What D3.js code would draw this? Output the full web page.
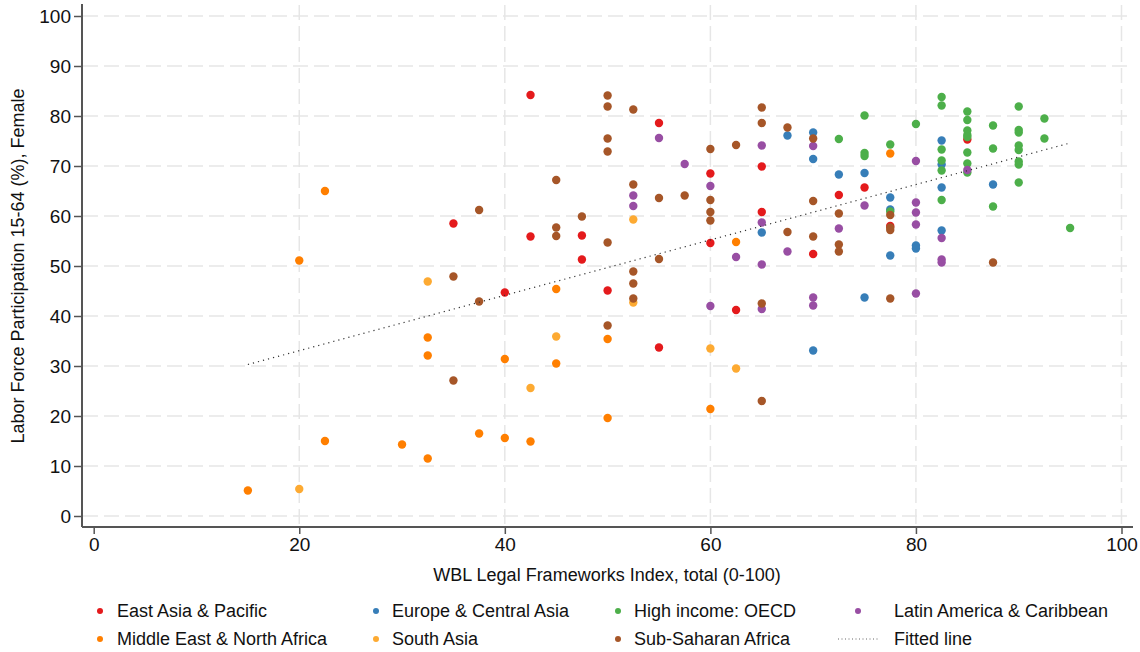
<!DOCTYPE html>
<html>
<head>
<meta charset="utf-8">
<script src="https://cdn.jsdelivr.net/npm/d3@7"></script>
<style>
    body { margin: 0; background: #fff; }
    svg { display: block; font-family: "Liberation Sans", Arial, sans-serif; }
</style>
</head>
<body>
<div id="chart"></div>
<script>
// Points per region: [WBL index, female labor force participation]
var eastAsia = [[42.5,84.2],[35,58.5],[42.5,55.9],[47.5,56.1],[47.5,51.3],[40,44.7],[55,78.6],[65,69.9],[60,68.5],[65,60.8],[60,54.6],[50,45.1],[62.5,41.2],[55,33.7],[70,52.4],[72.5,64.2],[75,65.7],[77.5,58.0],[85,75.3]];
var europe = [[67.5,76.1],[65,56.7],[70,76.7],[70,71.4],[70,33.1],[72.5,68.3],[75,68.6],[75,43.7],[77.5,63.7],[77.5,61.3],[77.5,52.1],[80,54.1],[80,53.5],[82.5,75.1],[82.5,70.3],[82.5,65.7],[82.5,57.1],[87.5,66.3]];
var oecd = [[72.5,75.4],[75,80.1],[75,72.6],[75,72.0],[77.5,74.3],[77.5,60.9],[80,78.4],[82.5,83.8],[82.5,82.1],[82.5,73.3],[82.5,71.1],[82.5,69.1],[82.5,63.2],[85,80.9],[85,79.2],[85,77.1],[85,76.2],[85,75.8],[85,72.7],[85,70.5],[85,68.7],[87.5,78.1],[87.5,73.5],[87.5,61.9],[90,81.9],[90,77.2],[90,76.7],[90,74.1],[90,73.2],[90,70.9],[90,70.3],[90,66.7],[92.5,79.5],[92.5,75.5],[95,57.6]];
var latam = [[55,75.6],[57.5,70.4],[65,74.1],[60,66.0],[52.5,64.1],[52.5,62.0],[65,58.7],[67.5,52.9],[62.5,51.8],[65,50.3],[60,42.0],[65,41.4],[70,74.0],[70,43.7],[70,42.1],[72.5,57.5],[75,62.1],[80,71.0],[80,62.7],[80,60.7],[80,58.3],[80,44.5],[82.5,55.6],[82.5,51.3],[82.5,50.7],[85,69.2]];
var mena = [[15,5.1],[20,51.1],[22.5,65.0],[22.5,15.0],[30,14.3],[32.5,35.7],[32.5,32.1],[32.5,11.5],[37.5,16.5],[40,31.4],[40,15.6],[42.5,14.9],[45,45.4],[45,30.5],[50,35.4],[50,19.6],[60,21.4],[62.5,54.8],[77.5,72.5]];
var southAsia = [[20,5.4],[32.5,46.9],[42.5,25.6],[45,35.9],[52.5,59.3],[52.5,42.7],[60,33.5],[62.5,29.5]];
var ssa = [[35,47.9],[37.5,42.9],[35,27.1],[45,67.2],[37.5,61.2],[47.5,59.9],[45,57.7],[45,56.0],[50,84.1],[50,81.9],[52.5,81.3],[65,81.7],[65,78.6],[67.5,77.7],[50,75.5],[50,72.9],[60,73.4],[62.5,74.2],[52.5,66.3],[55,63.6],[57.5,64.1],[60,63.2],[60,60.8],[60,59.1],[67.5,56.8],[50,54.7],[55,51.4],[52.5,48.9],[52.5,46.5],[52.5,43.5],[65,42.5],[50,38.1],[65,23.0],[70,75.5],[70,63.0],[70,55.9],[72.5,60.5],[72.5,54.3],[72.5,52.9],[77.5,60.2],[77.5,57.7],[77.5,57.2],[77.5,43.5],[87.5,50.7]];

var regionNames = ["East Asia & Pacific", "Europe & Central Asia", "High income: OECD", "Latin America & Caribbean",
                   "Middle East & North Africa", "South Asia", "Sub-Saharan Africa"];
var regionData = [eastAsia, europe, oecd, latam, mena, southAsia, ssa];

// Fitted line end points
var fitX = [15, 95];
var fitY = [30.3, 74.6];

var xTicks = [0, 20, 40, 60, 80, 100];
var yTicks = [0, 10, 20, 30, 40, 50, 60, 70, 80, 90, 100];

(function () {
    var width = 1140, height = 652;
    var colors = ["#e41a1c", "#377eb8", "#4daf4a", "#984ea3", "#ff7f00", "#fdaa32", "#a65628"];

    var x = d3.scaleLinear().domain([0, 100]).range([93.7, 1121.5]);
    var y = d3.scaleLinear().domain([0, 100]).range([516, 16]);

    var svg = d3.select("#chart")
        .append("svg")
        .attr("width", width)
        .attr("height", height);

    // Grid lines
    svg.append("g").selectAll("line")
        .data(yTicks)
        .enter().append("line")
        .attr("x1", 83).attr("x2", 1133)
        .attr("y1", function (d) { return y(d); })
        .attr("y2", function (d) { return y(d); })
        .style("stroke", "#e6e6e6")
        .style("stroke-width", 1.5)
        .style("stroke-dasharray", "15,6");

    svg.append("g").selectAll("line")
        .data(xTicks.filter(function (d) { return d > 0; }))
        .enter().append("line")
        .attr("x1", function (d) { return x(d); })
        .attr("x2", function (d) { return x(d); })
        .attr("y1", 5).attr("y2", 526)
        .style("stroke", "#e6e6e6")
        .style("stroke-width", 1.5)
        .style("stroke-dasharray", "15,6");

    // Axes, Stata look: offset lines with outside ticks
    var xAxis = d3.axisBottom(x).tickValues(xTicks).tickSize(7).tickPadding(4).tickSizeOuter(0);
    var gx = svg.append("g").attr("transform", "translate(0,527)").call(xAxis);
    gx.select(".domain").attr("d", "M82,0H1133");

    var yAxis = d3.axisLeft(y).tickValues(yTicks).tickSize(8).tickPadding(3).tickSizeOuter(0);
    var gy = svg.append("g").attr("transform", "translate(82,0)").call(yAxis);
    gy.select(".domain").attr("d", "M0,4V527");

    svg.selectAll(".domain").style("stroke", "#555").style("stroke-width", 2);
    svg.selectAll(".tick line").style("stroke", "#555").style("stroke-width", 1.5);
    svg.selectAll(".tick text")
        .style("font-size", "19px")
        .style("fill", "#111")
        .style("font-family", "'Liberation Sans', Arial, sans-serif");

    // Axis titles
    svg.append("text")
        .attr("x", 607).attr("y", 581)
        .attr("text-anchor", "middle")
        .style("font-size", "18px")
        .style("fill", "#111")
        .text("WBL Legal Frameworks Index, total (0-100)");

    svg.append("text")
        .attr("transform", "translate(24,266) rotate(-90)")
        .attr("text-anchor", "middle")
        .style("font-size", "18px")
        .style("fill", "#111")
        .text("Labor Force Participation 15-64 (%), Female");

    // Points, one group per region in legend order
    regionData.forEach(function (pts, i) {
        svg.append("g").selectAll("circle")
            .data(pts)
            .enter().append("circle")
            .attr("cx", function (d) { return x(d[0]); })
            .attr("cy", function (d) { return y(d[1]); })
            .attr("r", 4.2)
            .style("fill", colors[i]);
    });

    // Fitted line
    svg.append("line")
        .attr("x1", x(fitX[0])).attr("y1", y(fitY[0]))
        .attr("x2", x(fitX[1])).attr("y2", y(fitY[1]))
        .style("stroke", "#333")
        .style("stroke-width", 1.2)
        .style("stroke-dasharray", "1.2,4");

    // Legend: 2 rows x 4 columns
    var colMarker = [100, 376, 618, 858];
    var colText = [117, 392, 634, 894];
    var rowY = [611, 639];
    var legendItems = regionNames.concat(["Fitted line"]);

    legendItems.forEach(function (name, i) {
        var col = i % 4, row = Math.floor(i / 4);
        if (i < regionNames.length) {
            svg.append("circle")
                .attr("cx", colMarker[col]).attr("cy", rowY[row])
                .attr("r", 3)
                .style("fill", colors[i]);
        } else {
            svg.append("line")
                .attr("x1", colMarker[col] - 20).attr("x2", colMarker[col] + 21)
                .attr("y1", rowY[row]).attr("y2", rowY[row])
                .style("stroke", "#666")
                .style("stroke-width", 1)
                .style("stroke-dasharray", "1,2.5");
        }
        svg.append("text")
            .attr("x", colText[col]).attr("y", rowY[row])
            .attr("dy", "0.35em")
            .style("font-size", "18px")
            .style("fill", "#111")
            .text(name);
    });
}());
</script>
</body>
</html>
